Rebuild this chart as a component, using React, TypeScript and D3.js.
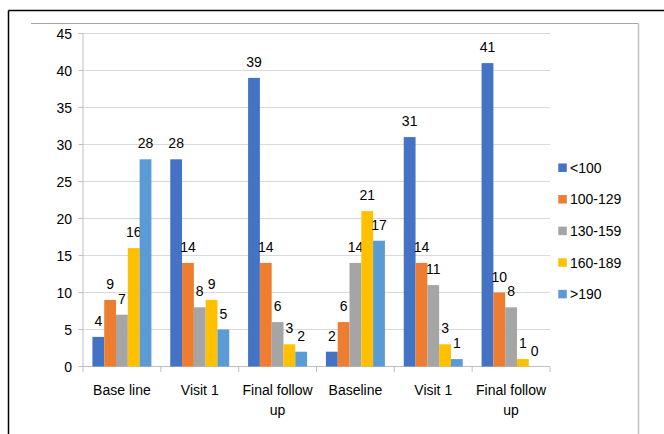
import React from "react";
import * as d3 from "d3";

const categories = ["Base line", "Visit 1", "Final follow up", "Baseline", "Visit 1", "Final follow up"];
const seriesNames = ["<100", "100-129", "130-159", "160-189", ">190"];
const s1 = [4, 28, 39, 2, 31, 41];
const s2 = [9, 14, 14, 6, 14, 10];
const s3 = [7, 8, 6, 14, 11, 8];
const s4 = [16, 9, 3, 21, 3, 1];
const s5 = [28, 5, 2, 17, 1, 0];
const seriesValues = [s1, s2, s3, s4, s5];
const colors = ["#4472C4", "#ED7D31", "#A5A5A5", "#FFC000", "#5B9BD5"];
const yTicks = [0, 5, 10, 15, 20, 25, 30, 35, 40, 45];

const FONT = "'Liberation Sans', Arial, sans-serif";

export default function App() {
  const W = 664, H = 434;
  const left = 83, right = 550, top = 33.5, bottom = 366.5;
  const x0 = d3.scaleBand<number>().domain(d3.range(categories.length)).range([left, right]).paddingInner(0).paddingOuter(0);
  const bw = x0.bandwidth();
  const gap = bw * 0.121;
  const x1 = d3.scaleBand<number>().domain(d3.range(seriesNames.length)).range([gap, bw - gap]).padding(0);
  const y = d3.scaleLinear().domain([0, 45]).range([bottom, top]);

  const splitLabel = (s: string) => (s === "Final follow up" ? ["Final follow", "up"] : [s]);

  return (
    <svg width={W} height={H} style={{ position: "absolute", left: 0, top: 0, background: "#fff" }}>
      <rect x={0} y={0} width={W} height={H} fill="#fff" />
      {/* outer black border */}
      <line x1={8.5} y1={10.5} x2={W} y2={10.5} stroke="#000" strokeWidth={1.5} />
      <line x1={8.5} y1={10.5} x2={8.5} y2={H} stroke="#000" strokeWidth={1.5} />
      {/* grey chart frame */}
      <line x1={31} y1={23.5} x2={638.5} y2={23.5} stroke="#A6A6A6" strokeWidth={1.2} />
      <line x1={638.5} y1={23.5} x2={638.5} y2={H} stroke="#BFBFBF" strokeWidth={1.5} />

      {/* gridlines */}
      {yTicks.map((t) => (
        <g key={t}>
          <line x1={left} x2={right} y1={y(t)} y2={y(t)} stroke="#D9D9D9" strokeWidth={1} />
          <line x1={left - 4.5} x2={left} y1={y(t)} y2={y(t)} stroke="#BFBFBF" strokeWidth={1} />
          <text x={left - 11} y={y(t)} dy="0.36em" textAnchor="end" fontFamily={FONT} fontSize={14} fill="#000">
            {t}
          </text>
        </g>
      ))}
      {/* axes */}
      <line x1={left} x2={left} y1={top} y2={bottom} stroke="#BFBFBF" strokeWidth={1} />
      <line x1={left} x2={right} y1={bottom} y2={bottom} stroke="#BFBFBF" strokeWidth={1} />
      {d3.range(categories.length + 1).map((i) => {
        const xx = left + i * bw;
        return <line key={i} x1={xx} x2={xx} y1={bottom} y2={bottom + 5.5} stroke="#BFBFBF" strokeWidth={1} />;
      })}

      {/* bars */}
      {seriesValues.map((vals, si) => (
        <g key={si}>
          {vals.map((v, ci) => {
            const bx = (x0(ci) as number) + (x1(si) as number);
            const w = x1.bandwidth();
            return (
              <g key={ci}>
                <rect x={bx} y={y(v)} width={w} height={bottom - y(v)} fill={colors[si]} />
                <text x={bx + w / 2} y={y(v) - 11} textAnchor="middle" fontFamily={FONT} fontSize={14} fill="#000">
                  {v}
                </text>
              </g>
            );
          })}
        </g>
      ))}

      {/* category labels */}
      {categories.map((c, i) => {
        const cx = (x0(i) as number) + bw / 2;
        return splitLabel(c).map((line, li) => (
          <text key={i + "-" + li} x={cx} y={395 + li * 19.5} textAnchor="middle" fontFamily={FONT} fontSize={14} fill="#000">
            {line}
          </text>
        ));
      })}

      {/* legend */}
      {seriesNames.map((n, i) => {
        const cy = 167.7 + i * 31.6;
        return (
          <g key={n}>
            <rect x={558.3} y={cy - 4.25} width={8.5} height={8.5} fill={colors[i]} />
            <text x={570} y={cy} dy="0.36em" fontFamily={FONT} fontSize={14} fill="#000">
              {n}
            </text>
          </g>
        );
      })}
    </svg>
  );
}
